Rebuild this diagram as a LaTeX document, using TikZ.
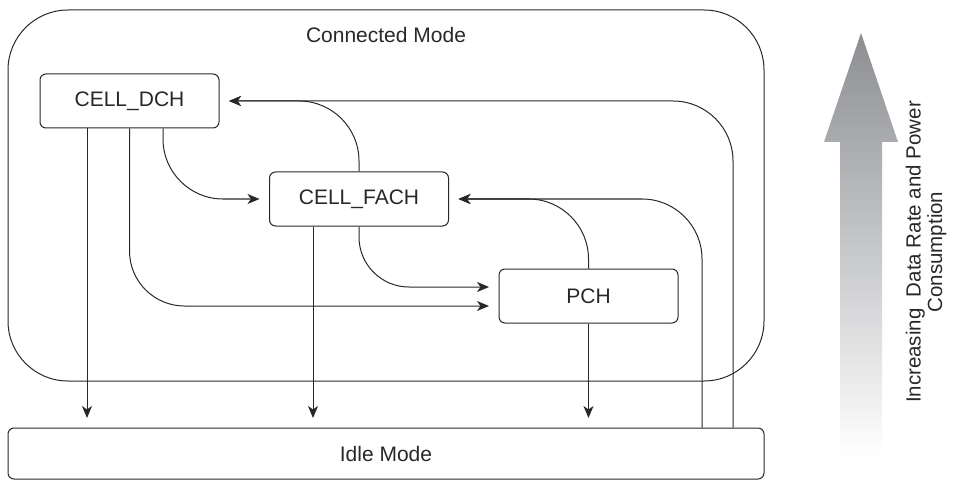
\documentclass[tikz,border=0pt]{standalone}
\usepackage{fontspec}
\setmainfont{Liberation Sans}
\usetikzlibrary{arrows.meta}
\definecolor{lc}{RGB}{40,40,40}
\definecolor{arrowgray}{RGB}{140,142,146}
\begin{document}
\begin{tikzpicture}[x=1pt,y=-1pt,
  txt/.style={text=lc, font=\fontsize{21}{25}\selectfont},
  statebox/.style={txt, draw=lc, line width=1pt, rounded corners=6pt,
    minimum width=179pt, minimum height=54pt, inner sep=0pt},
  conn/.style={draw=lc, line width=1pt,
    -{Stealth[length=12pt,width=10pt,inset=3.5pt]}, shorten >=9.5pt}]
\useasboundingbox (0,0) rectangle (955,481);
% containers
\node[draw=lc, line width=1pt, rounded corners=60pt, minimum width=756pt,
  minimum height=371pt, inner sep=0pt] (connected) at (386,195.5) {};
\node[txt] (connlabel) at (386,35) {Connected Mode};
\node[statebox, minimum width=756pt, minimum height=51pt] (idle) at (386,453.5) {Idle Mode};
% states
\node[statebox] (dch) at (129.5,101) {CELL\_DCH};
\node[statebox] (fach) at (359,199) {CELL\_FACH};
\node[statebox] (pch) at (588.5,296) {PCH};
% connectors
\draw[conn] ([xshift=-42.5pt]dch.south) -- ([xshift=-42.5pt]dch.south |- idle.north);
\draw[conn, rounded corners=55pt] (dch.south) |- ([yshift=-10pt]pch.west);
\draw[conn, rounded corners=60pt] ([xshift=33.5pt]dch.south) |- (fach.west);
\draw[conn, rounded corners=60pt] (fach.north) |- (dch.east);
\draw[conn, rounded corners=60pt] ([xshift=347pt]idle.north) |- (dch.east);
\draw[conn] ([xshift=-46pt]fach.south) -- ([xshift=-46pt]fach.south |- idle.north);
\draw[conn, rounded corners=50pt] (fach.south) |- ([yshift=9pt]pch.west);
\draw[conn, rounded corners=60pt] (pch.north) |- (fach.east);
\draw[conn, rounded corners=60pt] ([xshift=316pt]idle.north) |- (fach.east);
\draw[conn] (pch.south) -- (pch.south |- idle.north);
% big gradient arrow
\shade[top color=arrowgray, bottom color=white]
  (861,33) -- (898,142) -- (882,142) -- (882,457) -- (840,457) -- (840,142)
  -- (824,142) -- cycle;
\node[rotate=90, align=center, text=lc, font=\fontsize{20.5}{21.5}\selectfont]
  (scale) at (926,252) {Increasing\ \ Data Rate and Power\\Consumption};
\end{tikzpicture}
\end{document}
